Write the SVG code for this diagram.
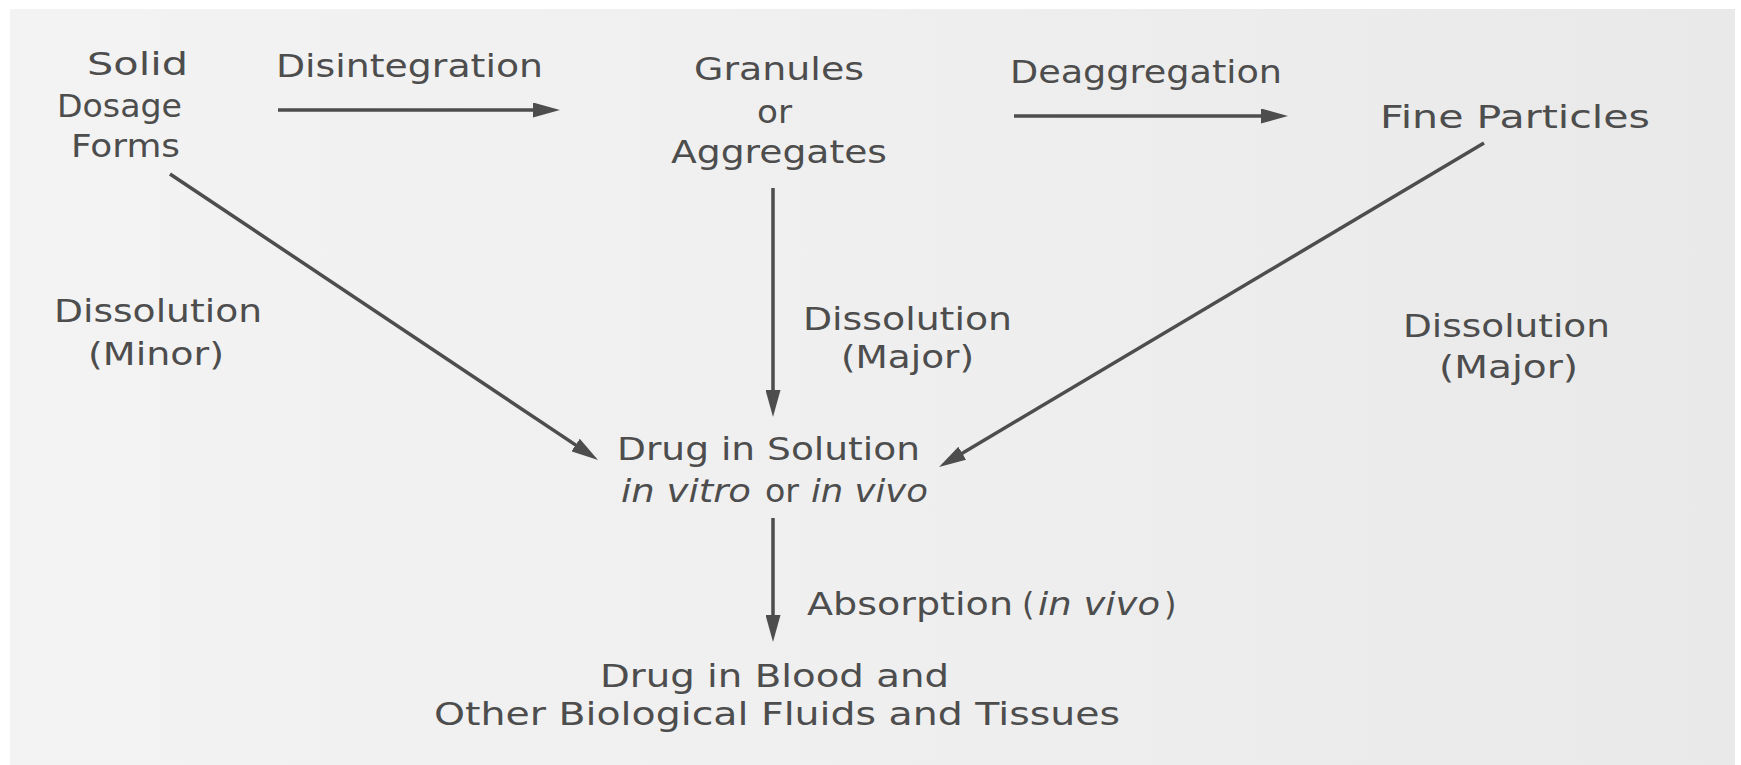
<svg xmlns="http://www.w3.org/2000/svg" width="1741" height="765" viewBox="0 0 1741 765">
  <defs>
    <linearGradient id="bg" x1="0" y1="0" x2="1" y2="0">
      <stop offset="0" stop-color="#f3f3f3"/>
      <stop offset="0.5" stop-color="#efefef"/>
      <stop offset="1" stop-color="#e9e9e9"/>
    </linearGradient>
    <marker id="arr" markerUnits="userSpaceOnUse" markerWidth="27" markerHeight="15" refX="17" refY="7.5" orient="auto">
      <path d="M0,0 L27,7.5 L0,15 Z" fill="#4d4d4d"/>
    </marker>
    <style>
      .t { font-family: "DejaVu Sans", "Liberation Sans", sans-serif; font-size: 32px; fill: #4d4d4d; }
      .i { font-style: italic; }
      .c { stroke: #4d4d4d; stroke-width: 3.5; fill: none; marker-end: url(#arr); }
    </style>
  </defs>
  <rect width="1741" height="765" fill="#ffffff"/>
  <rect x="10" y="9" width="1725" height="756" fill="url(#bg)"/>

  <g id="connectors">
    <line class="c" x1="278" y1="110" x2="550" y2="110"/>
    <line class="c" x1="1014" y1="116" x2="1278" y2="116"/>
    <line class="c" x1="170" y1="174" x2="589.7" y2="454.4"/>
    <line class="c" x1="1484" y1="143" x2="947.6" y2="461.9"/>
    <line class="c" x1="773" y1="188" x2="773" y2="407"/>
    <line class="c" x1="773" y1="518" x2="773" y2="632"/>
  </g>

  <g id="labels">
    <text class="t" x="276" y="77" textLength="267" lengthAdjust="spacingAndGlyphs">Disintegration</text>
    <text class="t" x="1010" y="83" textLength="272" lengthAdjust="spacingAndGlyphs">Deaggregation</text>
    <text class="t" x="54" y="322" textLength="208" lengthAdjust="spacingAndGlyphs">Dissolution</text>
    <text class="t" x="88" y="365" textLength="136" lengthAdjust="spacingAndGlyphs">(Minor)</text>
    <text class="t" x="803" y="330" textLength="209" lengthAdjust="spacingAndGlyphs">Dissolution</text>
    <text class="t" x="841" y="368" textLength="133" lengthAdjust="spacingAndGlyphs">(Major)</text>
    <text class="t" x="1403" y="337" textLength="207" lengthAdjust="spacingAndGlyphs">Dissolution</text>
    <text class="t" x="1439" y="378" textLength="139" lengthAdjust="spacingAndGlyphs">(Major)</text>
    <text class="t" x="807" y="615" textLength="206" lengthAdjust="spacingAndGlyphs">Absorption</text>
    <text class="t" x="1022" y="615">(</text>
    <text class="t i" x="1038" y="615" textLength="122" lengthAdjust="spacingAndGlyphs">in vivo</text>
    <text class="t" x="1164" y="615">)</text>
  </g>

  <g id="node-solid-dosage-forms">
    <text class="t" x="87" y="75" textLength="101" lengthAdjust="spacingAndGlyphs">Solid</text>
    <text class="t" x="57" y="117" textLength="125" lengthAdjust="spacingAndGlyphs">Dosage</text>
    <text class="t" x="71" y="157" textLength="109" lengthAdjust="spacingAndGlyphs">Forms</text>
  </g>

  <g id="node-granules">
    <text class="t" x="694" y="80" textLength="170" lengthAdjust="spacingAndGlyphs">Granules</text>
    <text class="t" x="757" y="123" textLength="35" lengthAdjust="spacingAndGlyphs">or</text>
    <text class="t" x="671" y="163" textLength="216" lengthAdjust="spacingAndGlyphs">Aggregates</text>
  </g>

  <g id="node-fine-particles">
    <text class="t" x="1380" y="128" textLength="270" lengthAdjust="spacingAndGlyphs">Fine Particles</text>
  </g>

  <g id="node-drug-in-solution">
    <text class="t" x="617" y="460" textLength="303" lengthAdjust="spacingAndGlyphs">Drug in Solution</text>
    <text class="t i" x="621" y="502" textLength="130" lengthAdjust="spacingAndGlyphs">in vitro</text>
    <text class="t" x="765" y="502" textLength="34" lengthAdjust="spacingAndGlyphs">or</text>
    <text class="t i" x="811" y="502" textLength="117" lengthAdjust="spacingAndGlyphs">in vivo</text>
  </g>

  <g id="node-drug-in-blood">
    <text class="t" x="600" y="687" textLength="349" lengthAdjust="spacingAndGlyphs">Drug in Blood and</text>
    <text class="t" x="434" y="725" textLength="686" lengthAdjust="spacingAndGlyphs">Other Biological Fluids and Tissues</text>
  </g>
</svg>
